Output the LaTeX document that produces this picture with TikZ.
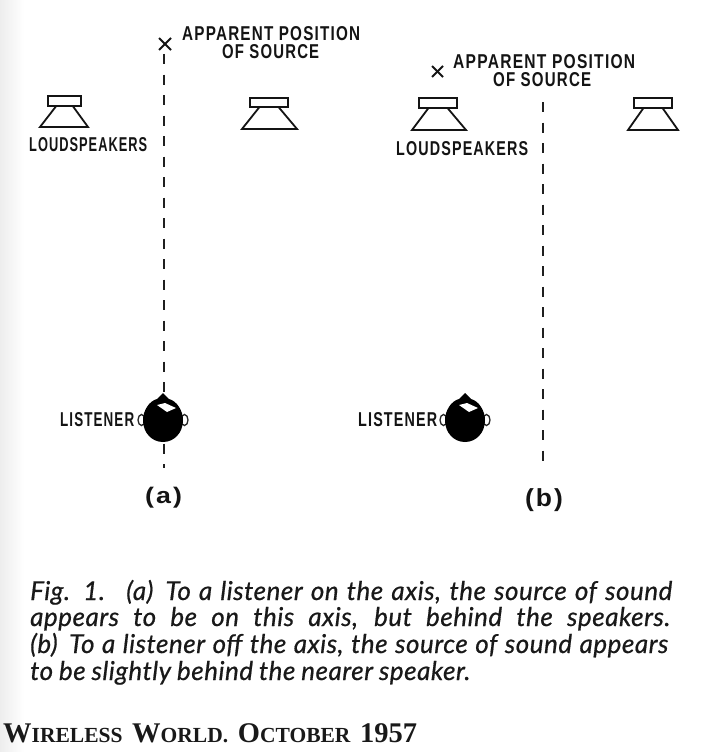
\documentclass[tikz,border=0pt]{standalone}
\usepackage{fontspec}
\usepackage{graphicx}
\setmainfont{Liberation Serif}
\newfontfamily\lab[LetterSpace=8,BoldFeatures={LetterSpace=8}]{Liberation Sans}
\newfontfamily\capfont[LetterSpace=2,ItalicFeatures={FakeBold=0.6}]{Lato}
\newcommand{\bigsc}[1]{{\fontsize{28.5}{32}\selectfont #1}}
\newcommand{\smsc}[1]{{\fontsize{21.5}{32}\selectfont #1}}
\newcommand{\fitlbl}[3]{\resizebox{#1pt}{#2pt}{\lab #3}}
\newcommand{\fitpar}[3]{\resizebox*{#1pt}{#2pt}{\lab #3}}
\newcommand{\capline}[2]{\makebox[#1pt][s]{#2}}
\tikzset{
  x=1pt,y=-1pt,
  lbl/.style={font=\fontsize{14}{15}\selectfont,inner sep=0pt,text=black!92},
  cpt/.style={font=\capfont\itshape\fontsize{26}{28}\selectfont,inner sep=0pt,anchor=base west,text=black!90},
  spk/.style={draw=black!92,line width=1.8pt,line join=miter},
  axisline/.style={draw=black!88,line width=1.7pt,dash pattern=on 10pt off 10.5pt},
  cross/.style={draw=black!92,line width=1.9pt},
  ear/.style={draw=black!85,line width=1.3pt,fill=white},
}
\newcommand{\speaker}[7]{% rect x1 x2 y1 y2, base x1 x2 y
  \draw[spk] (#1,#3) rectangle (#2,#4);
  \draw[spk] ({#1+0.25*(#2-#1)},#4) -- (#5,#7) -- (#6,#7) -- ({#2-0.25*(#2-#1)},#4);
}
\newcommand{\listenerhead}[2]{%
  \begin{scope}[shift={(#1,#2)}]
    \draw[ear] (-21.5,1) ellipse (3.5 and 5.5);
    \draw[ear] (21.5,1) ellipse (3.5 and 5.5);
    \fill[black] (0,-26) -- (6,-20) .. controls (14,-18) and (20,-8) .. (20,1)
      .. controls (20,14) and (11,23) .. (0,23)
      .. controls (-11,23) and (-20,14) .. (-20,1)
      .. controls (-20,-8) and (-14,-18) .. (-6,-20) -- cycle;
    \fill[white] (-6,-14) -- (2,-16) -- (13,-11) -- (4,-7) -- cycle;
  \end{scope}
}
\begin{document}
\begin{tikzpicture}
\useasboundingbox (0,0) rectangle (706,752);
\fill[white] (0,0) rectangle (706,752);
\shade[left color=black!7,right color=white] (0,0) rectangle (24,752);

% Panel (a)
\coordinate (atop) at (164,54);
\coordinate (abot) at (164,468);
\draw[axisline] (atop) -- (abot);
\speaker{48}{81}{96}{106}{40}{88}{127}
\speaker{250}{288}{98}{107}{242}{297}{129}
\node[lbl,anchor=west] (al) at (29,145) {\fitlbl{118}{14}{\bfseries LOUDSPEAKERS}};
\node[lbl,anchor=west] (aa1) at (182,34) {\fitlbl{178}{14}{\bfseries APPARENT POSITION}};
\node[lbl,anchor=west] (aa2) at (222,52) {\fitlbl{97}{14}{\bfseries OF SOURCE}};
\draw[cross] (159,38) -- (171,50);
\draw[cross] (171,38) -- (159,50);
\listenerhead{163}{419}
\node[lbl,anchor=west] (ali) at (60,420) {\fitlbl{74}{14}{\bfseries LISTENER}};
\node[lbl] (ac) at (163.5,498) {\fitpar{37}{21}{\bfseries (a)}};

% Panel (b)
\coordinate (btop) at (543,102);
\coordinate (bbot) at (543,467);
\draw[axisline] (btop) -- (bbot);
\speaker{419}{457}{98}{108}{412}{466}{130}
\speaker{634}{672}{98}{108}{628}{678}{130}
\node[lbl,anchor=west] (bl) at (396,149) {\fitlbl{132}{14}{\bfseries LOUDSPEAKERS}};
\node[lbl,anchor=west] (ba1) at (453,62) {\fitlbl{182}{14}{\bfseries APPARENT POSITION}};
\node[lbl,anchor=west] (ba2) at (493,80) {\fitlbl{98}{14}{\bfseries OF SOURCE}};
\draw[cross] (432,66) -- (443,77);
\draw[cross] (443,66) -- (432,77);
\listenerhead{465}{419}
\node[lbl,anchor=west] (bli) at (358,420) {\fitlbl{79}{14}{\bfseries LISTENER}};
\node[lbl] (bc) at (544,500) {\fitpar{38}{23}{\bfseries (b)}};

% Caption
\node[cpt] (c1) at (30,600) {\capline{642}{Fig. 1.\hspace{8pt} (a)\hspace{4pt} To a listener on the axis, the source of sound}};
\node[cpt] (c2) at (30,626) {\capline{640}{appears to be on this axis, but behind the speakers.}};
\node[cpt] (c3) at (30,653) {\capline{638}{(b)\hspace{4pt} To a listener off the axis, the source of sound appears}};
\node[cpt] (c4) at (30,680) {\capline{440}{to be slightly behind the nearer speaker.}};

\node[font=\bfseries,inner sep=0pt,anchor=base west,text=black!90] (foot) at (3,742) {\makebox[414pt][s]{\bigsc{W}\smsc{IRELESS} \bigsc{W}\smsc{ORLD.} \bigsc{O}\smsc{CTOBER} \bigsc{1957}}};
\end{tikzpicture}
\end{document}
